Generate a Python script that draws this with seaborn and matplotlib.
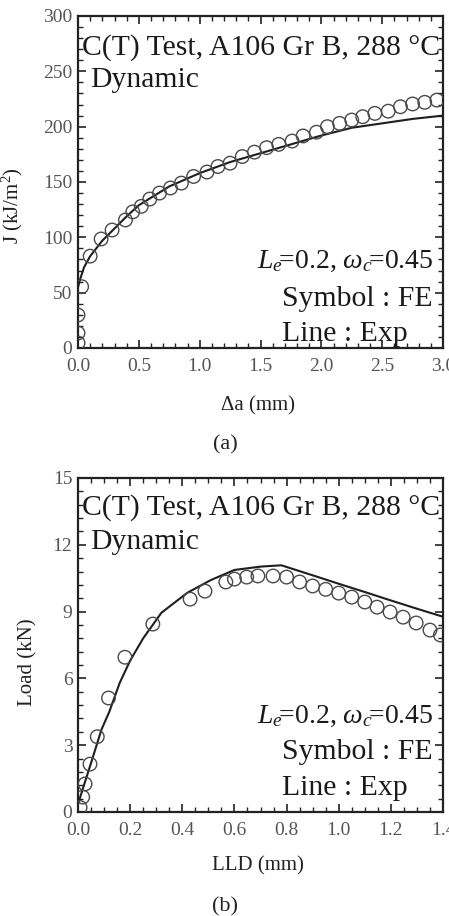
import numpy as np
import pandas as pd
import seaborn as sns
import matplotlib
matplotlib.use("Agg")
import matplotlib.pyplot as plt
from matplotlib.ticker import MultipleLocator, FormatStrFormatter

# ---- data: panel (a) J-R curve ----
da_fe = [0, 0, 0, 0.03, 0.10, 0.19, 0.28, 0.39, 0.45, 0.52, 0.59, 0.67, 0.76, 0.85,
         0.95, 1.06, 1.15, 1.25, 1.35, 1.45, 1.55, 1.65, 1.76, 1.85, 1.96, 2.05,
         2.15, 2.25, 2.34, 2.44, 2.55, 2.65, 2.75, 2.85, 2.95]
j_fe = [4.5, 13.5, 29.8, 55.4, 83, 98.5, 106.6, 115.7, 123, 128, 134.6, 140, 144.6, 149,
        155, 159, 164, 167, 173, 177, 181, 184, 187, 191.6, 195, 200,
        203, 206, 209, 212, 214, 218, 220.5, 222, 224]
da_exp = [0, 0.02, 0.05, 0.1, 0.2, 0.3, 0.4, 0.5, 0.75, 1.0, 1.25, 1.5, 1.75, 2.0,
          2.25, 2.5, 2.75, 3.0]
j_exp = [55, 63, 73, 83, 97, 108, 119, 129, 146, 158, 168, 176, 184, 192,
         199, 203, 207, 210]

# ---- data: panel (b) load-LLD ----
lld_fe = [0.008, 0.018, 0.027, 0.046, 0.074, 0.117, 0.18, 0.287, 0.43, 0.487, 0.567,
          0.60, 0.647, 0.69, 0.748, 0.80, 0.85, 0.90, 0.95, 1.0, 1.05, 1.10, 1.147,
          1.197, 1.247, 1.297, 1.35, 1.39]
load_fe = [0.2, 0.67, 1.26, 2.15, 3.38, 5.12, 6.95, 8.44, 9.56, 9.92, 10.33,
           10.46, 10.55, 10.6, 10.6, 10.55, 10.33, 10.15, 10.0, 9.83, 9.65, 9.43, 9.2,
           8.98, 8.75, 8.49, 8.17, 7.95]
lld_exp = [0, 0.02, 0.05, 0.09, 0.12, 0.16, 0.2, 0.25, 0.32, 0.42, 0.51, 0.60, 0.70,
           0.78, 0.90, 1.0, 1.1, 1.2, 1.3, 1.4]
load_exp = [0.35, 1.1, 2.2, 3.7, 4.5, 5.8, 6.8, 7.8, 8.95, 9.85, 10.42, 10.87, 11.02,
            11.08, 10.63, 10.25, 9.88, 9.5, 9.13, 8.77]

title_txt = "C(T) Test, A106 Gr B, 288 \u00b0C"
sub_txt = "Dynamic"
param_txt = r"$L_e\!$=0.2, $\omega_c\!$=0.45"
sym_txt = "Symbol : FE"
line_txt = "Line : Exp"

sns.set_theme(style="ticks")
plt.rcParams["font.family"] = ["Liberation Serif", "DejaVu Serif"]
plt.rcParams["mathtext.fontset"] = "custom"
plt.rcParams["mathtext.rm"] = "Liberation Serif"
plt.rcParams["mathtext.it"] = "Liberation Serif:italic"

W, H = 449, 916
fig = plt.figure(figsize=(W / 100, H / 100), dpi=100)

def ax_rect(x0, x1, y0, y1):
    return [x0 / W, 1 - y1 / H, (x1 - x0) / W, (y1 - y0) / H]

ax1 = fig.add_axes(ax_rect(78, 443, 16, 348))
ax2 = fig.add_axes(ax_rect(78, 443, 478, 812))

fe_a = pd.DataFrame({"x": da_fe, "y": j_fe})
ex_a = pd.DataFrame({"x": da_exp, "y": j_exp})
fe_b = pd.DataFrame({"x": lld_fe, "y": load_fe})
ex_b = pd.DataFrame({"x": lld_exp, "y": load_exp})

line_col = "#1e1e1e"
circ_col = "#4a4a4a"
tick_col = "#555555"

for ax, fe, ex in [(ax1, fe_a, ex_a), (ax2, fe_b, ex_b)]:
    sns.lineplot(data=ex, x="x", y="y", ax=ax, color=line_col, lw=1.5, sort=False,
                 estimator=None, zorder=3)
    sns.scatterplot(data=fe, x="x", y="y", ax=ax, marker="o", s=95,
                    facecolors="none", edgecolors=circ_col, linewidths=1.0, zorder=4)
    for sp in ax.spines.values():
        sp.set_linewidth(1.6)
        sp.set_color("#222222")
        sp.set_visible(True)
    ax.tick_params(which="both", direction="in", top=True, right=True,
                   colors="#222222", labelcolor=tick_col, labelsize=14)
    ax.tick_params(which="major", length=6, width=1.2)
    ax.tick_params(which="minor", length=3.5, width=1.0)
    ax.tick_params(axis="x", pad=7)
    ax.tick_params(axis="y", pad=4)

ax1.set_xlim(0, 3.0)
ax1.set_ylim(0, 300)
ax1.xaxis.set_major_locator(MultipleLocator(0.5))
ax1.xaxis.set_minor_locator(MultipleLocator(0.1))
ax1.yaxis.set_major_locator(MultipleLocator(50))
ax1.yaxis.set_minor_locator(MultipleLocator(10))
ax1.xaxis.set_major_formatter(FormatStrFormatter("%.1f"))

ax2.set_xlim(0, 1.4)
ax2.set_ylim(0, 15)
ax2.xaxis.set_major_locator(MultipleLocator(0.2))
ax2.xaxis.set_minor_locator(MultipleLocator(0.05))
ax2.yaxis.set_major_locator(MultipleLocator(3))
ax2.yaxis.set_minor_locator(MultipleLocator(0.6))
ax2.xaxis.set_major_formatter(FormatStrFormatter("%.1f"))

lab_col = "#222222"
ax1.set_xlabel("\u0394a (mm)", fontsize=15, color=lab_col)
ax1.set_ylabel("J (kJ/m$^2$)", fontsize=15, color=lab_col)
ax2.set_xlabel("LLD (mm)", fontsize=15, color=lab_col)
ax2.set_ylabel("Load (kN)", fontsize=15, color=lab_col)
ax1.xaxis.set_label_coords(0.493, -0.175)
ax1.yaxis.set_label_coords(-0.179, 0.43)
ax2.xaxis.set_label_coords(0.493, -0.162)
ax2.yaxis.set_label_coords(-0.138, 0.45)
for ax in (ax1, ax2):
    ax.xaxis.label.set_va("center")
    ax.yaxis.label.set_va("center")

txt_col = "#1a1a1a"
big = 21.4
pfs = 20
# panel a texts
ax1.text(0.011, 0.885, title_txt, transform=ax1.transAxes, fontsize=big, color=txt_col, va="baseline", ha="left")
ax1.text(0.033, 0.785, sub_txt, transform=ax1.transAxes, fontsize=big, color=txt_col, va="baseline", ha="left")
ax1.text(0.973, 0.241, param_txt, transform=ax1.transAxes, fontsize=pfs, color=txt_col, va="baseline", ha="right")
ax1.text(0.559, 0.1265, sym_txt, transform=ax1.transAxes, fontsize=big, color=txt_col, va="baseline", ha="left")
ax1.text(0.559, 0.022, line_txt, transform=ax1.transAxes, fontsize=big, color=txt_col, va="baseline", ha="left")
# panel b texts
ax2.text(0.011, 0.889, title_txt, transform=ax2.transAxes, fontsize=big, color=txt_col, va="baseline", ha="left")
ax2.text(0.033, 0.786, sub_txt, transform=ax2.transAxes, fontsize=big, color=txt_col, va="baseline", ha="left")
ax2.text(0.973, 0.2655, param_txt, transform=ax2.transAxes, fontsize=pfs, color=txt_col, va="baseline", ha="right")
ax2.text(0.559, 0.158, sym_txt, transform=ax2.transAxes, fontsize=big, color=txt_col, va="baseline", ha="left")
ax2.text(0.559, 0.051, line_txt, transform=ax2.transAxes, fontsize=big, color=txt_col, va="baseline", ha="left")

fig.text(225 / W, 1 - 445 / H, "(a)", fontsize=16, color=lab_col, ha="center", va="center")
fig.text(225 / W, 1 - 907 / H, "(b)", fontsize=16, color=lab_col, ha="center", va="center")

fig.savefig("out.png", dpi=100, facecolor="white")
